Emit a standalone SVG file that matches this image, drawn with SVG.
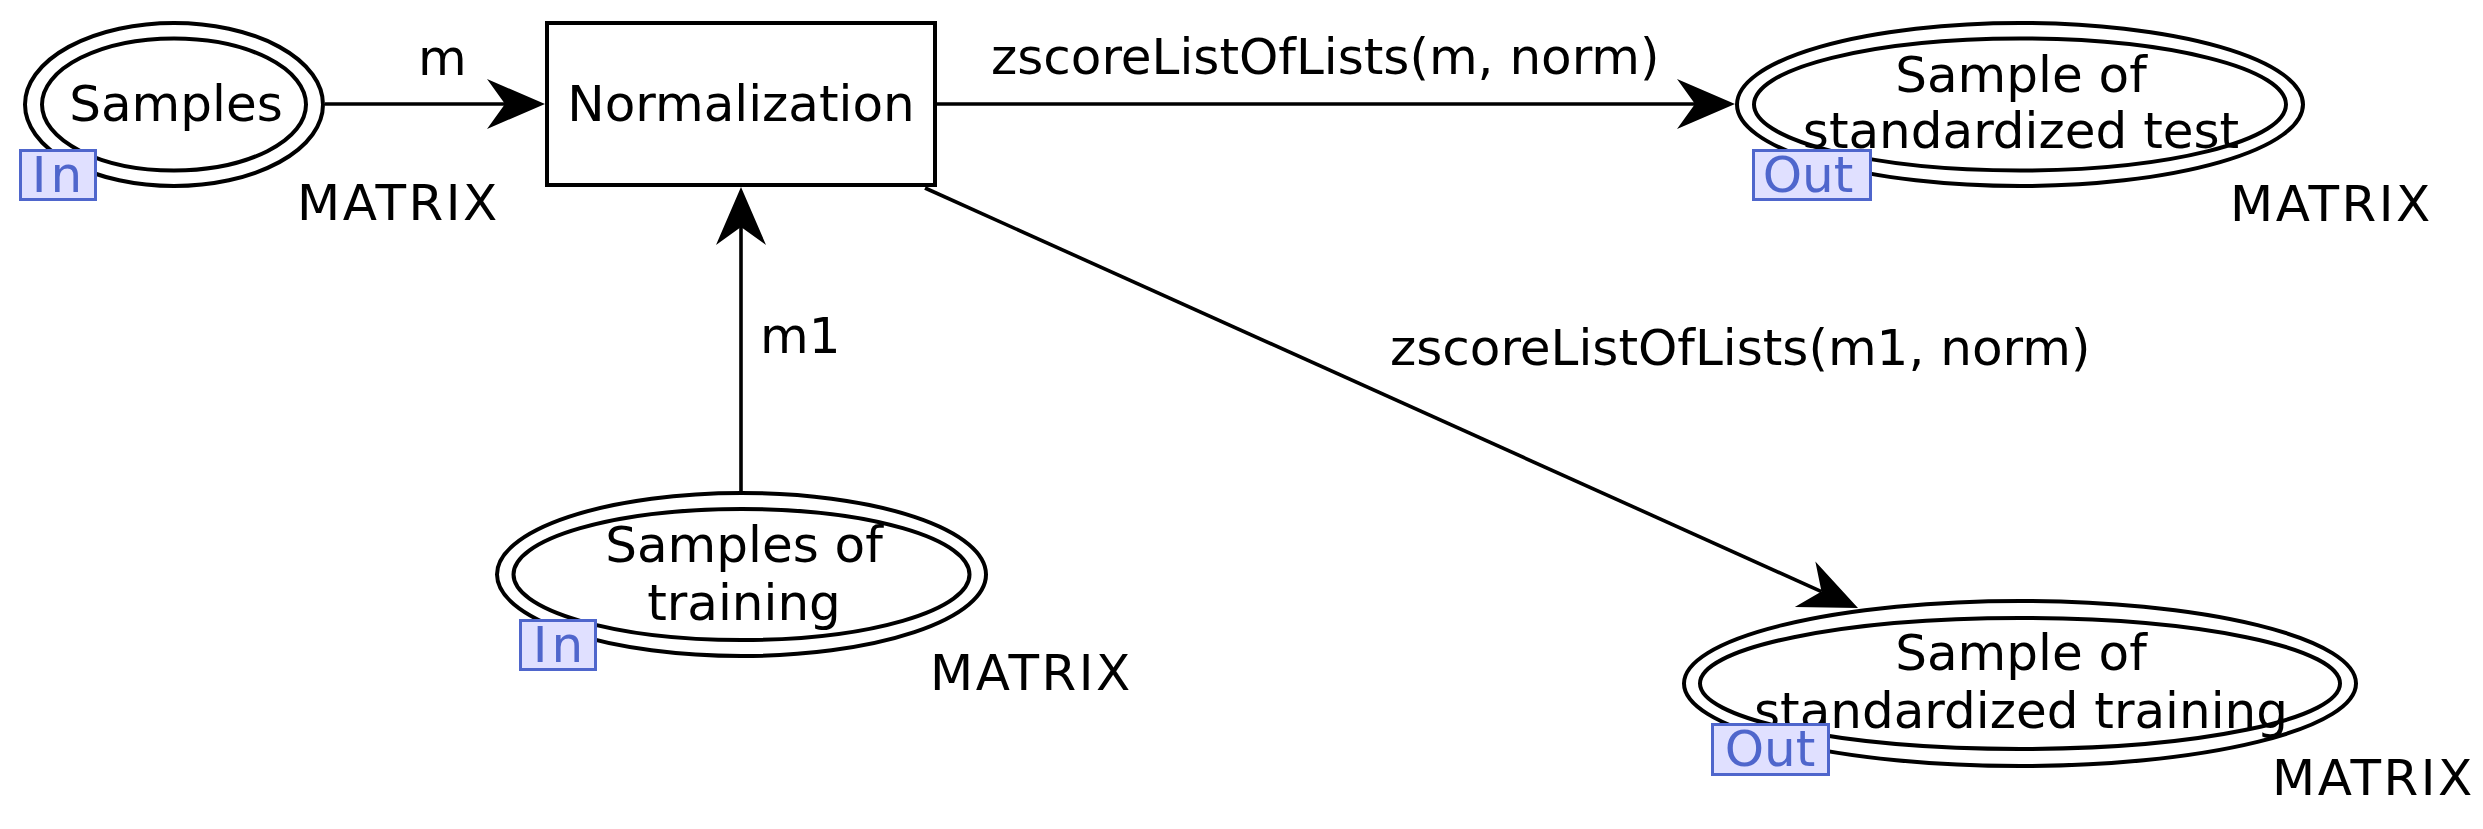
<svg xmlns="http://www.w3.org/2000/svg" width="2483" height="829" viewBox="0 0 2483 829">
<style>
  text { font-family: "DejaVu Sans", "Liberation Sans", sans-serif; font-size: 50px; fill: #000; }
  .c { text-anchor: middle; }
  .mx { letter-spacing: 2.5px; }
  .shape { fill: #fff; stroke: #000; stroke-width: 4; }
  .edge { fill: none; stroke: #000; stroke-width: 3.6; }
  .port rect { fill: #e0e0ff; stroke: #4f66cc; stroke-width: 3; }
  .port text { fill: #4f66cc; text-anchor: middle; }
  .port text.in { letter-spacing: 4px; }
</style>
<defs>
  <marker id="arr" viewBox="-20 -27 62 54" markerWidth="62" markerHeight="54" refX="0" refY="0" markerUnits="userSpaceOnUse" orient="auto">
    <path d="M40,0 L-18,-25 L0,0 L-18,25 Z" fill="#000"/>
  </marker>
</defs>

<g id="connectors">
  <line class="edge" x1="325" y1="104" x2="505" y2="104" marker-end="url(#arr)"/>
  <line class="edge" x1="937" y1="104" x2="1695" y2="104" marker-end="url(#arr)"/>
  <line class="edge" x1="741" y1="491" x2="741" y2="227" marker-end="url(#arr)"/>
  <line class="edge" x1="925" y1="188" x2="1821.5" y2="591.6" marker-end="url(#arr)"/>
  <text x="418" y="75">m</text>
  <text x="991" y="74">zscoreListOfLists(m, norm)</text>
  <text x="760" y="353">m1</text>
  <text x="1390" y="365">zscoreListOfLists(m1, norm)</text>
</g>

<g id="samples">
  <ellipse class="shape" cx="174" cy="104.5" rx="149" ry="81.5"/>
  <ellipse class="shape" cx="174" cy="104.5" rx="132" ry="66"/>
  <text class="c" x="176" y="121">Samples</text>
  <g class="port"><rect x="20.5" y="150.5" width="75" height="49"/><text class="in" x="59" y="192">In</text></g>
  <text class="mx" x="297" y="220">MATRIX</text>
</g>

<g id="normalization">
  <rect class="shape" x="547" y="23" width="388" height="162"/>
  <text class="c" x="741" y="121">Normalization</text>
</g>

<g id="standardized-test">
  <ellipse class="shape" cx="2020" cy="104.5" rx="283" ry="81.5"/>
  <ellipse class="shape" cx="2020" cy="104.5" rx="266" ry="66"/>
  <text class="c" x="2021" y="92">Sample of</text>
  <text class="c" x="2021" y="148">standardized test</text>
  <g class="port"><rect x="1753.5" y="150.5" width="117" height="49"/><text x="1808" y="192">Out</text></g>
  <text class="mx" x="2230" y="221">MATRIX</text>
</g>

<g id="samples-training">
  <ellipse class="shape" cx="741.5" cy="574.5" rx="244.5" ry="81.5"/>
  <ellipse class="shape" cx="741.5" cy="574.5" rx="228" ry="65.5"/>
  <text class="c" x="744" y="562">Samples of</text>
  <text class="c" x="744" y="620">training</text>
  <g class="port"><rect x="520.5" y="620.5" width="75" height="49"/><text class="in" x="560" y="662">In</text></g>
  <text class="mx" x="930" y="690">MATRIX</text>
</g>

<g id="standardized-training">
  <ellipse class="shape" cx="2020" cy="683.5" rx="336" ry="82.5"/>
  <ellipse class="shape" cx="2020" cy="683.5" rx="320" ry="65.5"/>
  <text class="c" x="2021" y="670">Sample of</text>
  <text class="c" x="2021" y="728">standardized training</text>
  <g class="port"><rect x="1712.5" y="724.5" width="116" height="50"/><text x="1770" y="766">Out</text></g>
  <text class="mx" x="2272" y="795">MATRIX</text>
</g>
</svg>
